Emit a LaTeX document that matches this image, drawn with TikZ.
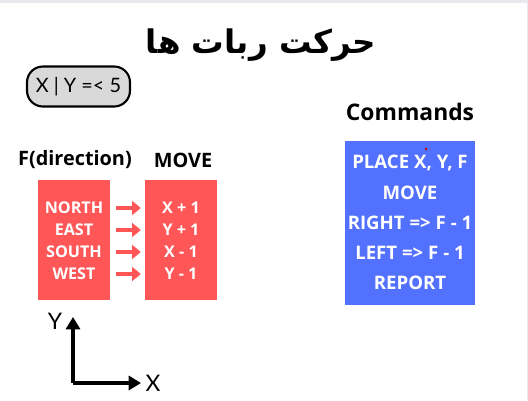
\documentclass[tikz,border=0pt]{standalone}
\usepackage{fontspec}
\usepackage{xcolor}
\usepackage{tikz}
\usetikzlibrary{arrows.meta,positioning}
\setmainfont{Lato}
\newfontfamily\boldsans{Open Sans}
\newfontfamily\arabicfont[Script=Arabic]{DejaVu Sans}
\TeXXeTstate=1
\definecolor{robotred}{HTML}{FF5757}
\definecolor{robotblue}{HTML}{5271FF}
\definecolor{pillgray}{HTML}{D9D9D9}
\definecolor{framegray}{HTML}{E8E9ED}
\tikzset{
  heading/.style={
    font=\boldsans\bfseries\fontsize{11.3}{13}\selectfont,
    text=black,
    inner sep=0pt
  },
  redbox/.style={
    rectangle,
    fill=robotred,
    minimum width=1.44cm,
    minimum height=2.4cm
  },
  bluebox/.style={
    rectangle,
    fill=robotblue,
    minimum width=2.6cm,
    minimum height=3.28cm
  },
  rowtext/.style={
    text=white,
    font=\boldsans\bfseries\fontsize{9.2}{10}\selectfont,
    inner sep=0pt
  },
  cmdtext/.style={
    text=white,
    font=\boldsans\bfseries\fontsize{10.6}{12}\selectfont,
    inner sep=0pt
  },
  pill/.style={
    rectangle,
    rounded corners=9pt,
    draw=black,
    fill=pillgray,
    line width=1.2pt,
    minimum width=2.06cm,
    minimum height=0.8cm,
    font=\fontsize{11.3}{13}\selectfont
  },
  redarrow/.style={-{Triangle[length=5pt,width=8pt]}, line width=2.3pt, draw=robotred},
  axis/.style={-{Triangle[length=7pt,width=8pt]}, line width=1.8pt, draw=black},
  axislabel/.style={font=\fontsize{13}{15}\selectfont, inner sep=0pt}
}

\begin{document}
\begin{tikzpicture}[x=0.02cm,y=-0.02cm]

% page frame
\fill[white] (0,0) rectangle (528,400);
\fill[framegray] (0,0) rectangle (528,3);
\fill[framegray] (527,0) rectangle (528,400);
\useasboundingbox (0,0) rectangle (528,400);

% title and limit
\node[font=\arabicfont\bfseries\fontsize{18.5}{22}\selectfont, inner sep=0pt] (title) at (261,45) {\beginR حرکت ربات ها\endR};
\node[pill] (limit) at (78.5,86.5) {X | Y =< 5};

% directions and moves
\node[heading] (fhead) at (75,160) {F(direction)};
\node[heading] (movehead) at (183,160) {MOVE};
\node[redbox] (dirbox) at (74,240) {};
\node[redbox] (movebox) at (181,240) {};

\node[rowtext] (north) at (74,208) {NORTH};
\node[rowtext] (east) at (74,230) {EAST};
\node[rowtext] (south) at (74,252) {SOUTH};
\node[rowtext] (west) at (74,274) {WEST};

\node[rowtext] (xplus) at (181,208) {X + 1};
\node[rowtext] (yplus) at (181,230) {Y + 1};
\node[rowtext] (xminus) at (181,252) {X - 1};
\node[rowtext] (yminus) at (181,274) {Y - 1};

\foreach \a/\b in {north/xplus,east/yplus,south/xminus,west/yminus}
  \draw[redarrow, shorten <=3pt, shorten >=2.2pt] (dirbox.east |- \a) -- (movebox.west |- \b);

% commands
\node[heading, font=\boldsans\bfseries\fontsize{13}{15}\selectfont] (cmdhead) at (410,112) {Commands};
\node[bluebox] (cmdbox) at (410,223) {};
\node[cmdtext] (place) at (410,163) {PLACE X, Y, F};
\node[cmdtext] (cmove) at (410,193) {MOVE};
\node[cmdtext] (right) at (410,223) {RIGHT => F - 1};
\node[cmdtext] (left) at (410,253) {LEFT => F - 1};
\node[cmdtext] (report) at (410,283) {REPORT};
\fill[red!80!black] (426,149) circle (1.4);

% axes
\coordinate (origin) at (73,383);
\coordinate (ytip) at (73,317);
\coordinate (xtip) at (141,383);
\draw[axis] (origin) -- (ytip);
\draw[axis] (origin) -- (xtip);
\node[axislabel] (ylabel) at (55,321) {Y};
\node[axislabel] (xlabel) at (153,383) {X};

\end{tikzpicture}
\end{document}
